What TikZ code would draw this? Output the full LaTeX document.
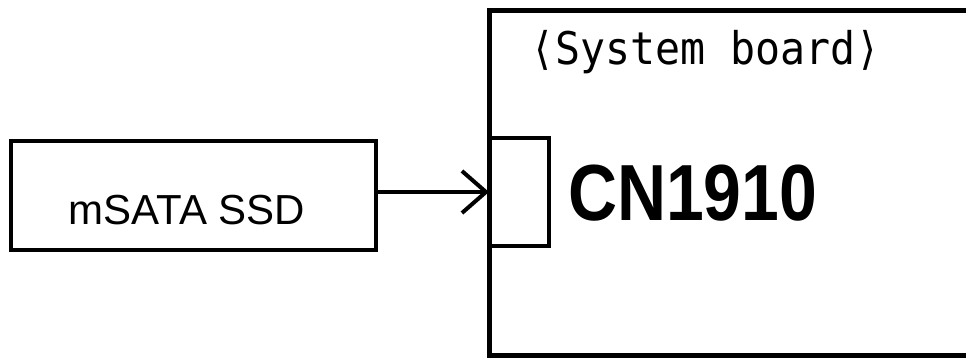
\documentclass[tikz,border=0pt]{standalone}
\usepackage{fontspec}
\setmainfont{Liberation Sans}
\newfontfamily\boardfont{DejaVu Sans Mono}
\usetikzlibrary{arrows.meta}
\begin{document}
\begin{tikzpicture}[x=1pt,y=-1pt,
  frame/.style={draw=black,line width=5pt,fill=none,inner sep=0pt,outer sep=0pt},
  box/.style={draw=black,line width=4.5pt,fill=white,inner sep=0pt,outer sep=0pt},
  link/.style={line width=4pt,-{Straight Barb[length=24pt,width=42pt,line width=4pt]}},
  label/.style={inner sep=0pt,outer sep=0pt}]
  \useasboundingbox[fill=white] (0,0) rectangle (966,358);
  \clip (0,0) rectangle (966,358);
  % system board outline (continues past the right edge)
  \node[frame,minimum width=540pt,minimum height=344pt,anchor=north west] (board) at (489,11) {};
  \node[label,anchor=base west,font=\boardfont\fontsize{45}{45}\selectfont,xscale=0.924] (title) at (530,65) {⟨System board⟩};
  % connector on the board
  \node[frame,line width=4pt,minimum width=60pt,minimum height=108pt,anchor=north west] (cn) at (489,138) {};
  \node[label,anchor=base west,font=\bfseries\fontsize{79.6}{80}\selectfont,xscale=0.853] (cnlabel) at (568,220) {CN1910};
  % drive module
  \node[box,minimum width=365pt,minimum height=109pt,anchor=north west] (msata) at (11,141) {};
  \node[label,anchor=base,font=\fontsize{42}{42}\selectfont] (msatalabel) at (187,225) {mSATA SSD};
  \draw[link] (msata.east |- cn.west) -- (cn.west);
\end{tikzpicture}
\end{document}
